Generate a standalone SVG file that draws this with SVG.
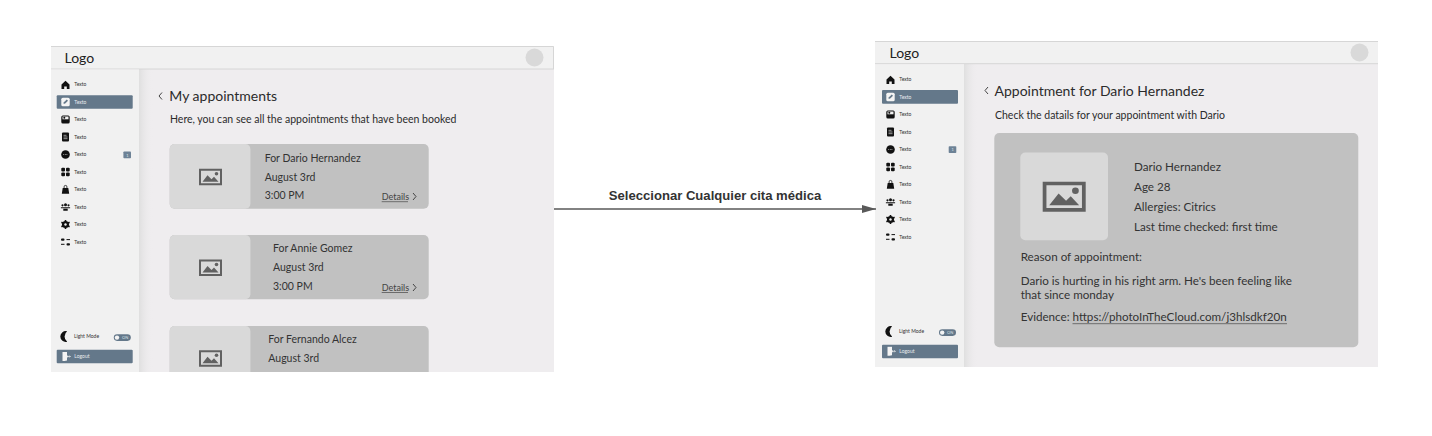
<svg xmlns="http://www.w3.org/2000/svg" width="1432" height="436" viewBox="0 0 1432 436">
<style>
text{font-family:"Lato","Noto Sans",sans-serif;fill:#333}
.bg{fill:#efedef}.side{fill:#f1f1f1}.head{fill:#f1f1f1}.hl{stroke:#d6d6d6;stroke-width:1;fill:none}
.act{fill:#64788a}.card{fill:#c1c1c1}.tile{fill:#d9d9d9}.av{fill:#d9d9d9}
.logo{font-size:14px;fill:#222}.t{font-size:14px;fill:#2b2b2b}.s{font-size:10.500px;fill:#2b2b2b}.c{font-size:10.500px;fill:#333}.p{font-size:11.650px;fill:#333}
.d{font-size:9px;fill:#444}.m{font-size:5px;fill:#333}.mw{font-size:5px;fill:#e8ecef}.tiny{font-size:4px;fill:#dfe5ea}
.chev{fill:none;stroke:#444;stroke-width:1}.ul{stroke:#555;stroke-width:.8}
.ic{fill:#111}.pic{fill:#616161}
.lab{font-family:"Liberation Sans",Arial,sans-serif;font-size:13.100px;font-weight:700;fill:#333}
.conn{stroke:#595959;stroke-width:1.3;fill:none}
</style>
<defs>
<linearGradient id="sh" x1="0" x2="1" y1="0" y2="0"><stop offset="0" stop-color="#dfdfdf"/><stop offset="1" stop-color="#efedef" stop-opacity="0"/></linearGradient>
<clipPath id="cl"><rect x="51" y="46" width="503" height="326"/></clipPath>
<clipPath id="cr"><rect x="875" y="41" width="503" height="326"/></clipPath>
<marker id="arr" markerUnits="userSpaceOnUse" markerWidth="14" markerHeight="10" refX="14" refY="4" orient="auto"><path d="M0 0L14 4L0 8z" fill="#595959"/></marker>
<symbol id="pic" viewBox="0 0 23 16.5" overflow="visible" preserveAspectRatio="none"><path class="pic" fill-rule="evenodd" d="M0 0H23V16.5H0zM2 2V14.500H21V2z"/><path class="pic" d="M3.500 13L8.500 6.500L12.500 10.500L15 8L19.500 13z"/><circle class="pic" cx="17.500" cy="5" r="1.800"/></symbol>
<symbol id="i-home" viewBox="0 0 10 10"><path class="ic" d="M5 .8L9 4.500V9H6.300V6.500H3.700V9H1V4.500z"/></symbol>
<symbol id="i-edit" viewBox="0 0 10 10"><rect x=".8" y=".8" width="8.400" height="8.400" rx="1.500" fill="#f4f4f4"/><path d="M3 7L3.400 5.300L6.300 2.500L7.500 3.700L4.700 6.600z" fill="#64788a"/></symbol>
<symbol id="i-img" viewBox="0 0 10 10"><rect x=".8" y="1" width="8.400" height="8" rx="1.500" class="ic"/><rect x="2" y="2" width="6" height="2.800" fill="#f1f1f1"/><circle cx="3.800" cy="3.200" r="1" class="ic"/></symbol>
<symbol id="i-doc" viewBox="0 0 10 10"><rect x="1.500" y=".6" width="7" height="8.800" rx="1" class="ic"/><path d="M3 3.300H6M3 5H7M3 6.700H7" stroke="#f1f1f1" stroke-width=".6"/></symbol>
<symbol id="i-chat" viewBox="0 0 10 10"><circle cx="5" cy="5" r="4.300" class="ic"/><path d="M2.800 5H7.200" stroke="#f1f1f1" stroke-width=".7" stroke-dasharray=".8 .8"/></symbol>
<symbol id="i-grid" viewBox="0 0 10 10"><rect x=".8" y=".8" width="3.700" height="3.700" rx="1" class="ic"/><rect x="5.500" y=".8" width="3.700" height="3.700" rx="1" class="ic"/><rect x=".8" y="5.500" width="3.700" height="3.700" rx="1" class="ic"/><rect x="5.500" y="5.500" width="3.700" height="3.700" rx="1" class="ic"/></symbol>
<symbol id="i-bag" viewBox="0 0 10 10"><path class="ic" d="M2.200 3.500H7.800L8.700 9.300H1.300z"/><path d="M3.600 3.800V2.300A1.400 1.400 0 0 1 6.400 2.300V3.800" fill="none" stroke="#111" stroke-width=".8"/></symbol>
<symbol id="i-ppl" viewBox="0 0 10 10"><circle cx="5" cy="2.800" r="1.500" class="ic"/><circle cx="2" cy="3.300" r="1.100" class="ic"/><circle cx="8" cy="3.300" r="1.100" class="ic"/><path class="ic" d="M.3 5.200H9.700V6.200H.3zM2.800 6.800H7.200V8.800H2.800z"/></symbol>
<symbol id="i-gear" viewBox="0 0 10 10"><circle cx="5" cy="5" r="2.500" fill="none" stroke="#111" stroke-width="2"/><path d="M5 .5V9.500M.9 2.800L9.100 7.200M.9 7.200L9.100 2.800" stroke="#111" stroke-width="1.600"/><circle cx="5" cy="5" r="1.200" fill="#f1f1f1"/></symbol>
<symbol id="i-sl" viewBox="0 0 10 10"><rect x=".5" y="1.500" width="3.500" height="2.200" rx="1" class="ic"/><rect x="6" y="2.100" width="3.500" height="1" class="ic"/><rect x=".5" y="6.800" width="3.500" height="1" class="ic"/><rect x="6" y="6.200" width="3.500" height="2.200" rx="1" class="ic"/></symbol>
<symbol id="i-moon" viewBox="0 0 10 10"><path class="ic" d="M7 .3A4.900 4.900 0 1 0 7 9.700A5.800 5.800 0 0 1 7 .3z"/></symbol>
<symbol id="i-out" viewBox="0 0 10 10"><path d="M1.500 .5H6V3.500L7 5L6 6.500V9L3.500 9.500H1.500z" fill="#f4f4f4"/><path d="M6.500 5H9.300M8.300 4L9.300 5L8.300 6" stroke="#f4f4f4" stroke-width=".7" fill="none"/></symbol>
</defs>
<rect width="1432" height="436" fill="#fff"/>

<g id="screen-appointments" clip-path="url(#cl)">
<rect class="bg" x="51" y="46" width="503" height="326"/>
<rect x="139" y="69" width="14" height="303" fill="url(#sh)"/>
<rect class="head" x="51" y="46" width="503" height="23"/>
<path class="hl" d="M51 46.500H553.500V69M51 69H554"/>
<text class="logo" x="64.500" y="63">Logo</text>
<circle class="av" cx="534.500" cy="57.500" r="9"/>
<g id="sidebar-left">
<rect class="side" x="51" y="69.500" width="88" height="303"/>
<rect class="act" x="56.700" y="95.200" width="76" height="13.500" rx="1"/>
<use href="#i-home" x="60.500" y="80" width="10" height="10"/><text class="m" x="74.300" y="86.400">Texto</text>
<use href="#i-edit" x="60.500" y="97" width="10" height="10"/><text class="mw" x="74.300" y="103.700">Texto</text>
<use href="#i-img" x="60.500" y="114.500" width="10" height="10"/><text class="m" x="74.300" y="121">Texto</text>
<use href="#i-doc" x="60.500" y="132" width="10" height="10"/><text class="m" x="74.300" y="138.700">Texto</text>
<use href="#i-chat" x="60.500" y="149.500" width="10" height="10"/><text class="m" x="74.300" y="156.200">Texto</text>
<rect x="123.400" y="151.500" width="7.600" height="6.800" rx=".8" fill="#6d8296"/><text class="tiny" x="126.300" y="156.500">1</text>
<use href="#i-grid" x="60.500" y="167" width="10" height="10"/><text class="m" x="74.300" y="173.700">Texto</text>
<use href="#i-bag" x="60.500" y="184.500" width="10" height="10"/><text class="m" x="74.300" y="191.200">Texto</text>
<use href="#i-ppl" x="60.500" y="202" width="10" height="10"/><text class="m" x="74.300" y="208.700">Texto</text>
<use href="#i-gear" x="60.500" y="219.500" width="10" height="10"/><text class="m" x="74.300" y="226.200">Texto</text>
<use href="#i-sl" x="60.500" y="237" width="10" height="10"/><text class="m" x="74.300" y="243.700">Texto</text>
<use href="#i-moon" x="59.500" y="331" width="11" height="11"/><text class="m" x="74" y="338">Light Mode</text>
<rect x="113.800" y="334.300" width="17" height="6.600" rx="3.300" fill="#64788a"/><circle cx="117" cy="337.600" r="2.200" fill="#f4f4f4"/><text class="tiny" x="122" y="339">ON</text>
<rect class="act" x="56.700" y="349.800" width="76" height="13.500" rx="1"/>
<use href="#i-out" x="61" y="351.500" width="10" height="10"/><text class="mw" x="74.300" y="358.300">Logout</text>
</g>
<path class="chev" d="M162 92.500L159 96L162 99.500"/>
<text class="t" x="169.300" y="101">My appointments</text>
<text class="s" x="170" y="123">Here, you can see all the appointments that have been booked</text>
<g id="card-dario">
<rect class="card" x="169.700" y="144" width="259" height="64.700" rx="5"/>
<rect class="tile" x="169.700" y="144" width="80.700" height="64.700" rx="5"/>
<use href="#pic" x="199" y="168.700" width="23" height="16.500"/>
<text class="c" x="264.700" y="161.700">For Dario Hernandez</text><text class="c" x="264.700" y="180.500">August 3rd</text><text class="c" x="264.700" y="199.300">3:00 PM</text>
<text class="d" x="381.700" y="200">Details</text><path class="ul" d="M381.700 201.700H408"/><path class="chev" d="M413 193L416 196.500L413 200"/>
</g>
<g id="card-annie">
<rect class="card" x="169.700" y="235" width="259" height="64.300" rx="5"/>
<rect class="tile" x="169.700" y="235" width="80.700" height="64.300" rx="5"/>
<use href="#pic" x="199" y="259.500" width="23" height="16.500"/>
<text class="c" x="273" y="252.300">For Annie Gomez</text><text class="c" x="273" y="271.300">August 3rd</text><text class="c" x="273" y="290">3:00 PM</text>
<text class="d" x="381.700" y="290.800">Details</text><path class="ul" d="M381.700 292.500H408"/><path class="chev" d="M413 284L416 287.500L413 291"/>
</g>
<g id="card-fernando">
<rect class="card" x="169.700" y="326" width="259" height="64" rx="5"/>
<rect class="tile" x="169.700" y="326" width="80.700" height="64" rx="5"/>
<use href="#pic" x="199" y="350.300" width="23" height="16.500"/>
<text class="c" x="268.300" y="343.300">For Fernando Alcez</text><text class="c" x="268.300" y="362">August 3rd</text>
</g>
</g>

<g id="screen-detail" clip-path="url(#cr)">
<rect class="bg" x="875" y="41" width="503" height="326"/>
<rect x="964" y="64" width="14" height="303" fill="url(#sh)"/>
<rect class="head" x="875" y="41" width="503" height="23"/>
<path class="hl" d="M875 41.500H1378M875 63.700H1378"/>
<text class="logo" x="889.500" y="58">Logo</text>
<circle class="av" cx="1359.500" cy="52.500" r="9"/>
<g id="sidebar-right">
<rect class="side" x="875" y="64.300" width="89" height="303"/>
<rect class="act" x="882" y="90" width="76" height="13.700" rx="1"/>
<use href="#i-home" x="885.500" y="75" width="10" height="10"/><text class="m" x="899.300" y="81.400">Texto</text>
<use href="#i-edit" x="885.500" y="92" width="10" height="10"/><text class="mw" x="899.300" y="98.700">Texto</text>
<use href="#i-img" x="885.500" y="109.500" width="10" height="10"/><text class="m" x="899.300" y="116">Texto</text>
<use href="#i-doc" x="885.500" y="127" width="10" height="10"/><text class="m" x="899.300" y="133.700">Texto</text>
<use href="#i-chat" x="885.500" y="144.500" width="10" height="10"/><text class="m" x="899.300" y="151.200">Texto</text>
<rect x="948.700" y="146.300" width="7.600" height="6.800" rx=".8" fill="#6d8296"/><text class="tiny" x="951.600" y="151.300">1</text>
<use href="#i-grid" x="885.500" y="162" width="10" height="10"/><text class="m" x="899.300" y="168.700">Texto</text>
<use href="#i-bag" x="885.500" y="179.500" width="10" height="10"/><text class="m" x="899.300" y="186.200">Texto</text>
<use href="#i-ppl" x="885.500" y="197" width="10" height="10"/><text class="m" x="899.300" y="203.700">Texto</text>
<use href="#i-gear" x="885.500" y="214.500" width="10" height="10"/><text class="m" x="899.300" y="221.200">Texto</text>
<use href="#i-sl" x="885.500" y="232" width="10" height="10"/><text class="m" x="899.300" y="238.700">Texto</text>
<use href="#i-moon" x="884.500" y="326" width="11" height="11"/><text class="m" x="899" y="333">Light Mode</text>
<rect x="939" y="329.300" width="17" height="6.600" rx="3.300" fill="#64788a"/><circle cx="942.200" cy="332.600" r="2.200" fill="#f4f4f4"/><text class="tiny" x="947" y="334">ON</text>
<rect class="act" x="882" y="344.700" width="76" height="13.500" rx="1"/>
<use href="#i-out" x="886" y="346.300" width="10" height="10"/><text class="mw" x="899.300" y="353.200">Logout</text>
</g>
<path class="chev" d="M988 87L985 90.500L988 94"/>
<text class="t" x="994.500" y="96">Appointment for Dario Hernandez</text>
<text class="s" x="995" y="118.500">Check the datails for your appointment with Dario</text>
<g id="detail-panel">
<rect class="card" x="994.300" y="133" width="364" height="214.300" rx="5"/>
<rect class="tile" x="1020.300" y="152.500" width="87.700" height="87.700" rx="5"/>
<use href="#pic" x="1042.700" y="181.700" width="43" height="30"/>
<text class="p" x="1134" y="171">Dario Hernandez</text>
<text class="p" x="1134" y="191">Age 28</text>
<text class="p" x="1134" y="211">Allergies: Citrics</text>
<text class="p" x="1134" y="230.800">Last time checked: first time</text>
<text class="p" x="1020.700" y="261">Reason of appointment:</text>
<text class="p" x="1020.700" y="285">Dario is hurting in his right arm. He's been feeling like</text>
<text class="p" x="1020.700" y="298.500">that since monday</text>
<text class="p" x="1020.700" y="320.700">Evidence:</text>
<text class="p" x="1072.500" y="320.700">https://photoInTheCloud.com/j3hlsdkf20n</text>
<path class="ul" d="M1072.500 323.700H1287"/>
</g>
</g>

<g id="connectors">
<path class="conn" d="M554 209H876" marker-end="url(#arr)"/>
<text class="lab" x="715" y="200" text-anchor="middle">Seleccionar Cualquier cita médica</text>
</g>
</svg>
